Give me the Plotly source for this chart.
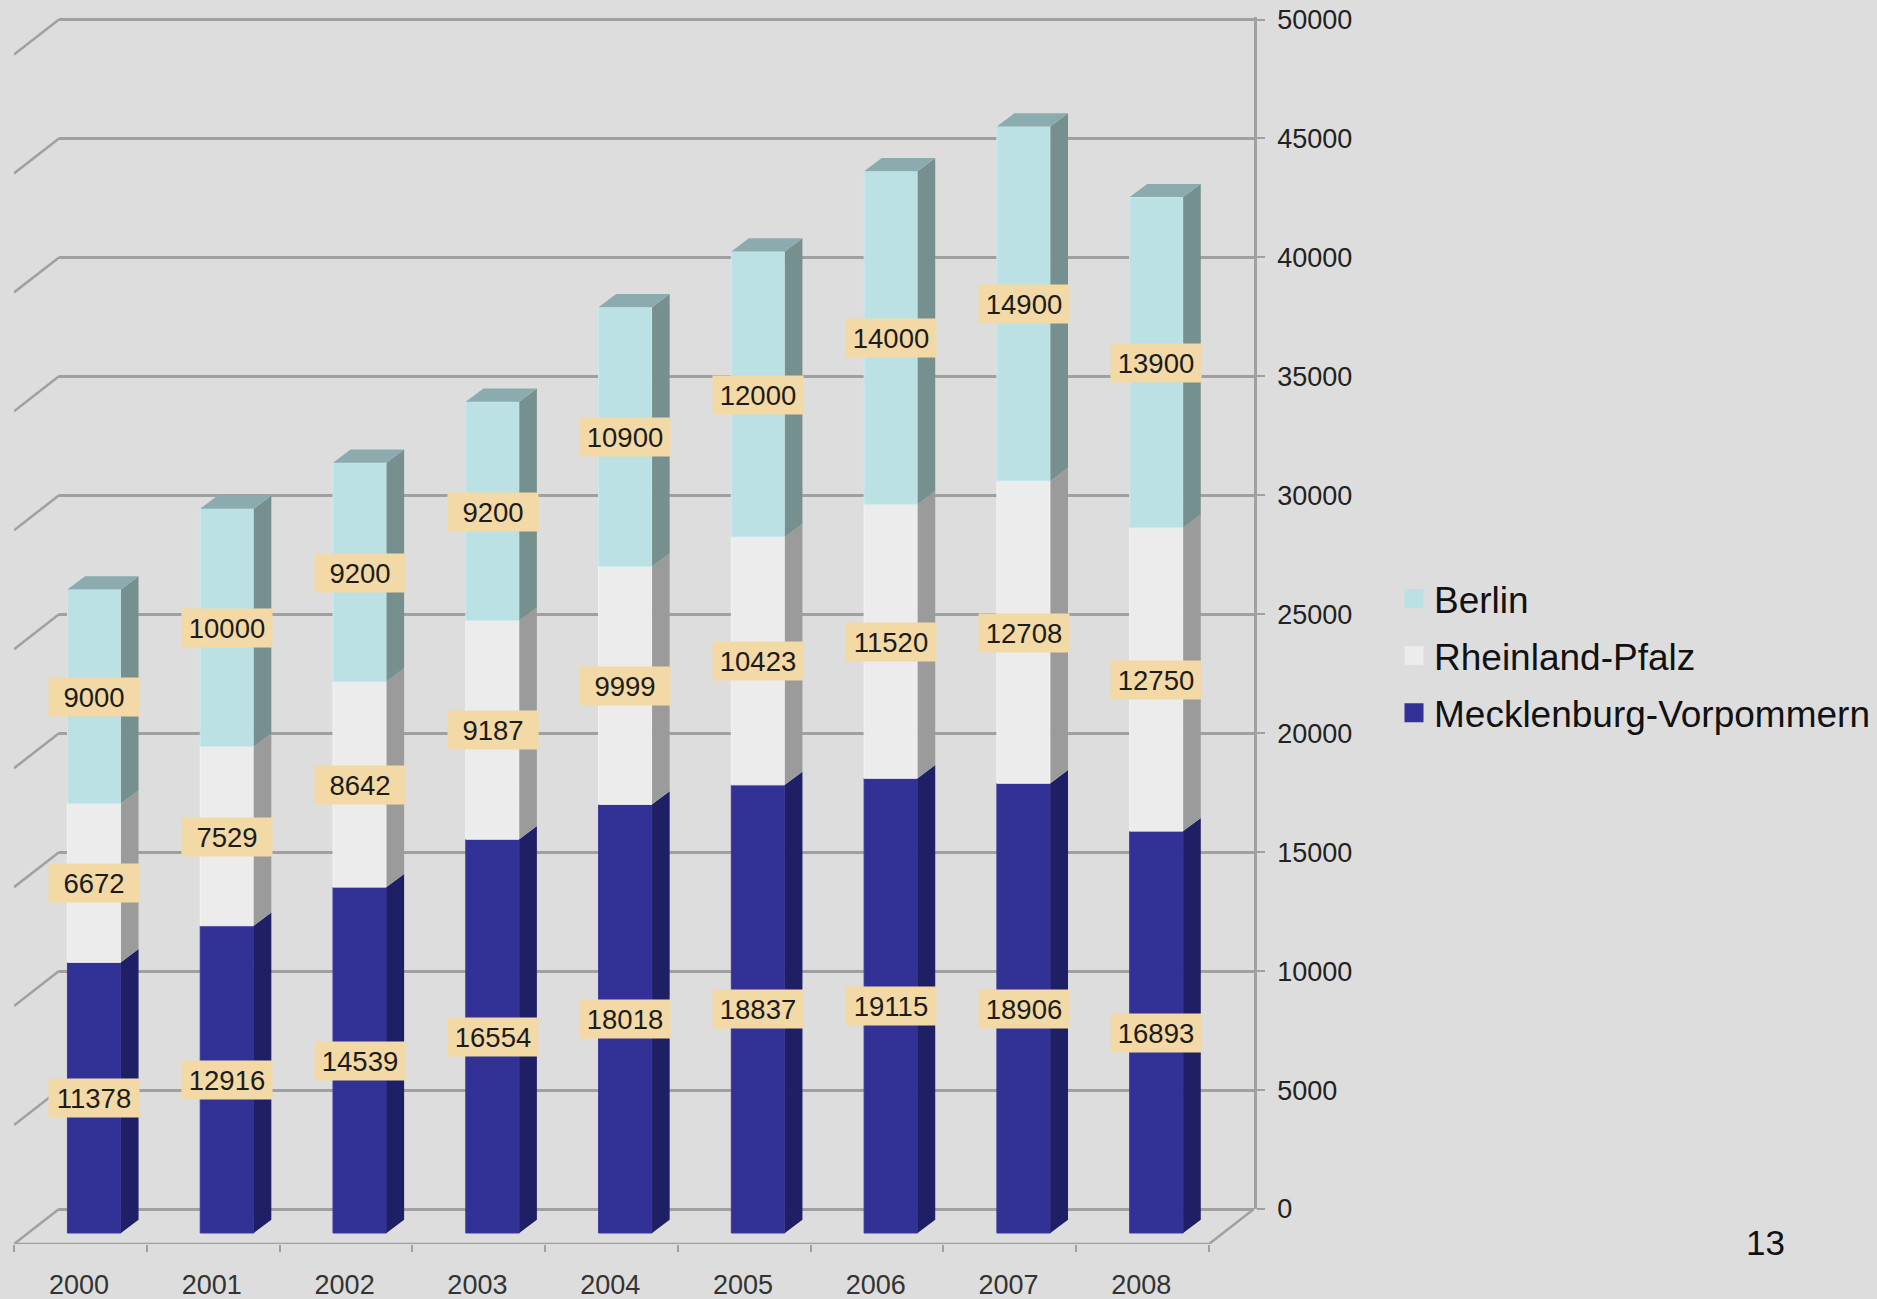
import plotly.graph_objects as go

years = ["2000", "2001", "2002", "2003", "2004", "2005", "2006", "2007", "2008"]
meck = [11378, 12916, 14539, 16554, 18018, 18837, 19115, 18906, 16893]
rhein = [6672, 7529, 8642, 9187, 9999, 10423, 11520, 12708, 12750]
berlin = [9000, 10000, 9200, 9200, 10900, 12000, 14000, 14900, 13900]
y_ticks = [0, 5000, 10000, 15000, 20000, 25000, 30000, 35000, 40000, 45000, 50000]

W, H = 1877, 1299
GRID = "#a0a0a0"
BG = "#dddddd"

# Pixel geometry of the pseudo-3D frame
CAT_PX = 132.8
K = 1189.5 / 50000          # px per value unit
WALL_DX = 45 / CAT_PX       # wall depth in category units
BASE_LOW = 11 / K           # floor front edge below bar base, in value units
BASE_HIGH = 24 / K          # back wall zero above bar base, in value units
BAR_W = 0.403
BAR_C = 0.604
DEPTH_X = 17.6 / CAT_PX
DEPTH_Y = 13.2 / K
WALL_TOP = y_ticks[-1] + 100  # headroom so the top gridline is kept

fig = go.Figure()

# Back wall subplot needs a trace of its own so its axes are drawn
fig.add_trace(go.Scatter(x=[0, 1], y=[y_ticks[0], y_ticks[-1]], mode="lines", line=dict(width=0),
                         opacity=0, showlegend=False, hoverinfo="skip", xaxis="x", yaxis="y"))


def side_polys(low, high):
    xs, ys = [], []
    for i, (a, b) in enumerate(zip(low, high)):
        xr = i + BAR_C + BAR_W / 2
        xs += [xr, xr + DEPTH_X, xr + DEPTH_X, xr, xr, None]
        ys += [a, a + DEPTH_Y, b + DEPTH_Y, b, a, None]
    return xs, ys


def poly(xs, ys, color):
    fig.add_trace(go.Scatter(x=xs, y=ys, mode="lines", fill="toself", fillcolor=color,
                             line=dict(width=0, color=color), showlegend=False,
                             hoverinfo="skip", xaxis="x2", yaxis="y2"))


# Slanted grid parts on the left wall and floor edges
gx, gy = [], []
for v in y_ticks:
    gx += [0, WALL_DX, None]
    gy += [v - BASE_LOW, v + BASE_HIGH, None]
gx += [0, len(years), len(years) + WALL_DX]
gy += [-BASE_LOW, -BASE_LOW, BASE_HIGH]
fig.add_trace(go.Scatter(x=gx, y=gy, mode="lines", line=dict(color=GRID, width=2.5),
                         showlegend=False, hoverinfo="skip", xaxis="x2", yaxis="y2"))

series = [
    ("Mecklenburg-Vorpommern", meck, "#323296", "#3a3a9e", "#1f1f66", None),
    ("Rheinland-Pfalz", rhein, "#ececec", "#f3f3f3", "#9b9b9b", None),
    ("Berlin", berlin, "#bbe1e5", "#c9ebee", "#76908f", "#8cabaf"),
]

positions = [i + BAR_C for i in range(len(years))]
base = [0] * len(years)
mids = []
for name, vals, front, edge, side, top in series:
    fig.add_trace(go.Bar(x=positions, y=vals, base=base, width=BAR_W, name=name,
                         marker=dict(color=front, line=dict(color=edge, width=1)),
                         showlegend=False, xaxis="x2", yaxis="y2"))
    high = [b + v for b, v in zip(base, vals)]
    poly(*side_polys(base, high), side)
    mids.append([(b + h) / 2 for b, h in zip(base, high)])
    if top:
        xs, ys = [], []
        for i, t in enumerate(high):
            xl = i + BAR_C - BAR_W / 2
            xr = i + BAR_C + BAR_W / 2
            xs += [xl, xl + DEPTH_X, xr + DEPTH_X, xr, xl, None]
            ys += [t, t + DEPTH_Y, t + DEPTH_Y, t, t, None]
        poly(xs, ys, top)
    base = high

# Legend entries (top to bottom)
for i, (name, vals, front, edge, side, top) in enumerate(reversed(series)):
    fig.add_trace(go.Scatter(x=[None], y=[None], mode="markers", name=name, legendgroup=name,
                             marker=dict(symbol="square", size=16, color=front,
                                         line=dict(color=front, width=3)),
                             xaxis="x2", yaxis="y2"))

# Value labels
annotations = []
for (name, vals, *_), mid in zip(series, mids):
    for pos, v, m in zip(positions, vals, mid):
        annotations.append(dict(x=pos, y=m, xref="x2", yref="y2", text=str(v), showarrow=False,
                                font=dict(family="Liberation Sans", size=27.5, color="#1c1c1c"),
                                bgcolor="#f2d9a6", width=90, height=38, align="center", valign="middle",
                                borderpad=0, yshift=-0.5))
annotations.append(dict(x=1765 / W, y=1 - 1242 / H, xref="paper", yref="paper", text="13", showarrow=False,
                        xanchor="center", yanchor="middle",
                        font=dict(family="Liberation Sans", size=35, color="#111111")))

fig.update_layout(
    width=W, height=H, margin=dict(l=0, r=0, t=0, b=0, autoexpand=False), autosize=False,
    paper_bgcolor=BG, plot_bgcolor="rgba(0,0,0,0)", showlegend=True, barmode="overlay",
    font=dict(family="Liberation Sans", color="#222222"),
    annotations=annotations,
    legend=dict(x=1394 / W, y=1 - 568 / H, xanchor="left", yanchor="top", bgcolor="rgba(0,0,0,0)",
                font=dict(family="Liberation Sans", size=37, color="#111111"),
                tracegroupgap=6, traceorder="grouped", borderwidth=0),
    # Back wall axes: real value scale and gridlines
    xaxis=dict(domain=[59 / W, 1254 / W], range=[0, 1], visible=False, automargin=False),
    yaxis=dict(domain=[(H - 1209) / H, (H - 19.5 + (WALL_TOP - y_ticks[-1]) * K) / H], range=[0, WALL_TOP],
               side="right", anchor="x", tickvals=y_ticks, tickformat="d", automargin=False,
               showgrid=True, gridcolor=GRID, gridwidth=2.5, zeroline=True,
               zerolinecolor=GRID, zerolinewidth=2.5, showline=True, linecolor=GRID, linewidth=2.5,
               ticks="outside", ticklen=8, tickwidth=2, tickcolor=GRID, ticklabelstandoff=7,
               tickfont=dict(family="Liberation Sans", size=27, color="#222222")),
    # Front plane axes: bars and category axis
    xaxis2=dict(domain=[14 / W, 1254 / W], range=[0, len(years) + WALL_DX], anchor="y2", side="bottom",
                tickvals=[i + 0.49 for i in range(len(years))], ticktext=years, ticks="", showgrid=False,
                zeroline=False, showline=False, ticklabelstandoff=22, automargin=False,
                tickfont=dict(family="Liberation Sans", size=27, color="#333333"),
                minor=dict(tickvals=list(range(len(years) + 1)), ticks="outside", ticklen=7, tickwidth=2,
                           tickcolor=GRID, showgrid=False)),
    yaxis2=dict(domain=[(H - 1244) / H, 1], range=[-BASE_LOW, 1233 / K], anchor="x2", visible=False,
                showgrid=False, zeroline=False, automargin=False),
)

fig.write_html("out.html", config={"displayModeBar": False},
               post_script="document.body.style.margin='0';document.body.style.overflow='hidden';")
